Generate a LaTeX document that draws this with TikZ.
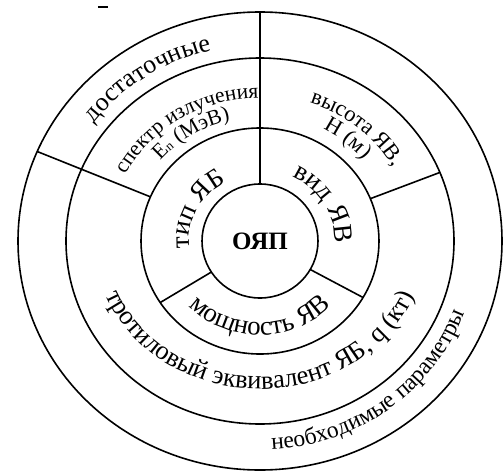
\documentclass[tikz,border=0pt]{standalone}
\usepackage{fontspec}
\setmainfont{Liberation Serif}
\usetikzlibrary{decorations.text}
\newcommand{\fszA}{\fontsize{27}{31}\selectfont}
\newcommand{\fszB}{\fontsize{26}{30}\selectfont}
\newcommand{\fszT}{\fontsize{26.5}{30}\selectfont}
\newcommand{\fszC}{\fontsize{21.5}{25}\selectfont}
\newcommand{\fszD}{\fontsize{22.5}{26}\selectfont}
\newcommand{\fszN}{\fontsize{23.5}{27}\selectfont}
\newcommand{\fszS}{\fontsize{13}{15}\selectfont}
\begin{document}
\begin{tikzpicture}[x=1pt,y=1pt,
  ringline/.style={line width=1.6pt},
  curved/.style={decorate, decoration={text along path, text align=center, text={#1}}}]
\useasboundingbox (-260,-231) rectangle (243,241);
% rings
\draw[ringline] (0,0) ellipse[x radius=58, y radius=57];
\draw[ringline] (0,0) ellipse[x radius=119, y radius=113];
\draw[ringline] (0,0) ellipse[x radius=194, y radius=183];
\draw[ringline] (0,0) ellipse[x radius=242, y radius=229];
% dividers
\draw[ringline] (90:58 and 57) -- (90:242 and 229);
\draw[ringline] (-30:58 and 57) -- (-30:119 and 113);
\draw[ringline] (213:58 and 57) -- (213:119 and 113);
\draw[ringline] (22:119 and 113) -- (22:194 and 183);
\draw[ringline] (157:119 and 113) -- (157:242 and 229);
% small dash
\draw[line width=1.4pt] (-162,234) -- (-152,234);
% centre
\node[font=\bfseries\fontsize{25}{29}\selectfont] (oyap) at (0,0) {ОЯП};
% ring 1
\path[curved={|\fszA|тип ЯБ}] (213:71 and 67) arc[start angle=213, end angle=93, x radius=71, y radius=67];
\path[curved={|\fszA|вид ЯВ}] (88:75 and 71) arc[start angle=88, end angle=-26, x radius=75, y radius=71];
\path[curved={|\fszA|мощность ЯВ}] (-150:99 and 94) arc[start angle=-150, end angle=-30, x radius=99, y radius=94];
% ring 2
\path[curved={|\fszC|спектр излучения}] (172:152 and 143) arc[start angle=172, end angle=72, x radius=152, y radius=143];
\path[curved={|\fszC|E|\fszS|n|\fszC| (МэВ)}] (172:131 and 124) arc[start angle=172, end angle=72, x radius=131, y radius=124];
\path[curved={|\fszD|высота ЯВ,}] (100:155 and 146) arc[start angle=100, end angle=0, x radius=155, y radius=146];
\path[curved={|\fszD|H (м)}] (100:134 and 127) arc[start angle=100, end angle=0, x radius=134, y radius=127];
\path[curved={|\fszT|тротиловый эквивалент ЯБ, q (кт)}] (-178:166 and 148) arc[start angle=-178, end angle=-2, x radius=166, y radius=148];
% ring 3
\path[curved={|\fszB|достаточные}] (174:208 and 196) arc[start angle=174, end angle=74, x radius=208, y radius=196];
\path[curved={|\fszN|необходимые параметры}] (-113:218 and 209) arc[start angle=-113, end angle=7, x radius=218, y radius=209];
\end{tikzpicture}
\end{document}
